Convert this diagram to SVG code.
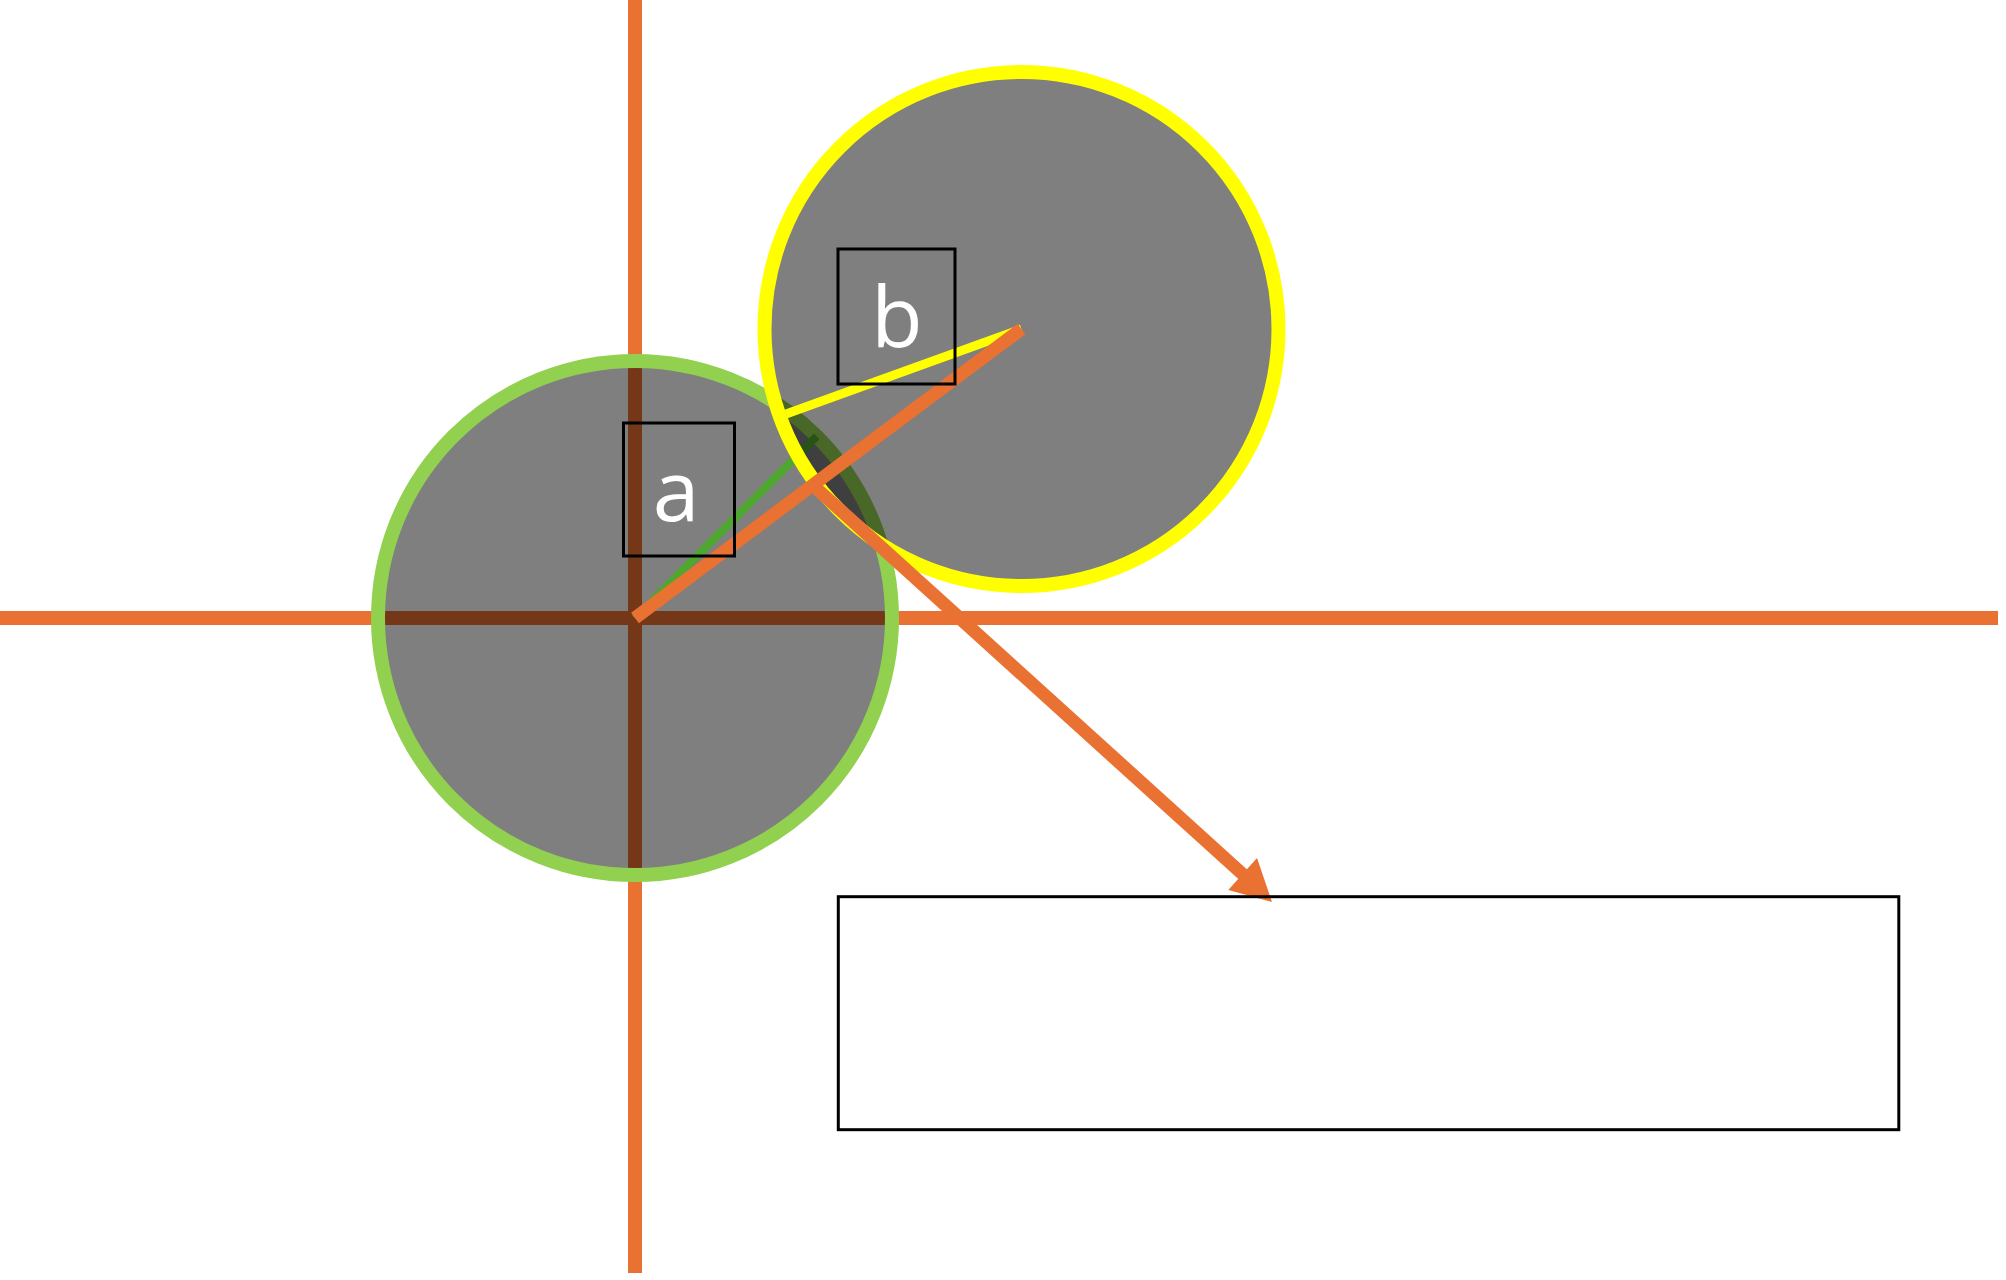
<svg xmlns="http://www.w3.org/2000/svg" width="2006" height="1280" viewBox="0 0 2006 1280">
<style>
.axis{stroke:#E97132;stroke-width:14;fill:none}
.circ{fill:#000;fill-opacity:0.5;stroke-width:14}
.org{stroke:#E97132;stroke-width:13;fill:none}
.box{fill:none;stroke:#000;stroke-width:3}
.lbl{font-family:"Open Sans","Noto Sans","DejaVu Sans",sans-serif;font-size:84px;fill:#fff;text-anchor:middle}
</style>
<rect width="2006" height="1280" fill="#fff"/>
<g id="axes">
<line class="axis" x1="635" y1="0" x2="635" y2="1273"/>
<line class="axis" x1="0" y1="618" x2="1998" y2="618"/>
</g>
<g id="circle-a">
<circle class="circ" cx="635" cy="618" r="257" stroke="#92D050"/>
</g>
<g id="connectors">
<line id="radius-a" x1="635" y1="618" x2="816.7" y2="436.3" stroke="#4EA72E" stroke-width="8"/>
</g>
<g id="circle-b">
<circle class="circ" cx="1021.5" cy="329" r="257" stroke="#FFFF00"/>
</g>
<g id="connectors-top">
<line id="radius-b" x1="1021.5" y1="329" x2="786" y2="414" stroke="#FFFF00" stroke-width="9"/>
<line id="a-to-b" class="org" x1="635" y1="618" x2="1021.5" y2="329"/>
<line id="arrow" class="org" x1="817" y1="489" x2="1243" y2="874.5"/>
<polygon points="1272,902 1257,858 1228.3,890" fill="#E97132"/>
</g>
<g id="label-a">
<rect class="box" x="623.5" y="423" width="111" height="133"/>
<text class="lbl" x="676" y="521">a</text>
</g>
<g id="label-b">
<rect class="box" x="838" y="249" width="117" height="135"/>
<text class="lbl" x="897" y="347">b</text>
</g>
<g id="target-box">
<rect class="box" x="838.3" y="896.7" width="1060.5" height="233"/>
</g>
</svg>
